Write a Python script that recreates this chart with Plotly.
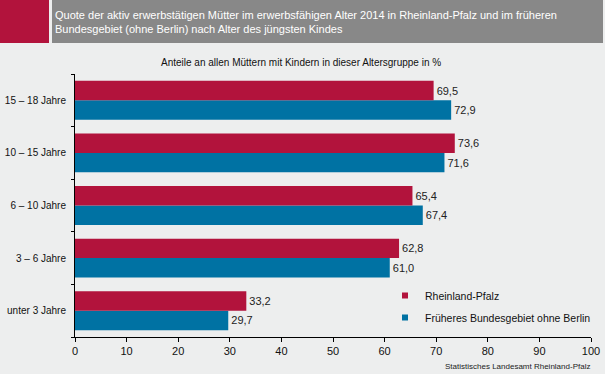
import plotly.graph_objects as go

categories = ["unter 3 Jahre", "3 – 6 Jahre", "6 – 10 Jahre", "10 – 15 Jahre", "15 – 18 Jahre"]
rlp_values = [33.2, 62.8, 65.4, 73.6, 69.5]
bund_values = [29.7, 61.0, 67.4, 71.6, 72.9]
series_names = ["Rheinland-Pfalz", "Früheres Bundesgebiet ohne Berlin"]
x_ticks = [0, 10, 20, 30, 40, 50, 60, 70, 80, 90, 100]

title_text = ("Quote der aktiv erwerbstätigen Mütter im erwerbsfähigen Alter 2014 in Rheinland-Pfalz und im früheren<br>"
              "Bundesgebiet (ohne Berlin) nach Alter des jüngsten Kindes")
subtitle_text = "Anteile an allen Müttern mit Kindern in dieser Altersgruppe in %"
source_text = "Statistisches Landesamt Rheinland-Pfalz"

RED = "#B2133C"
BLUE = "#0072A3"
BG = "#EDEEEE"
GRAY = "#888888"
FONT = "Liberation Sans, Arial, sans-serif"

W, H = 605, 374
L, R, T, B = 75, 14, 74, 37
PW, PH = W - L - R, H - T - B

def px(x):
    return (x - L) / PW

def py(y):
    return (H - B - y) / PH

def fmt(v):
    return f"{v:.1f}".replace(".", ",")

fig = go.Figure()
fig.add_trace(go.Bar(
    y=categories, x=bund_values, orientation="h", name=series_names[1],
    marker=dict(color=BLUE, line=dict(width=0)),
    text=[fmt(v) for v in bund_values], textposition="outside",
    textfont=dict(size=11, color="#222222", family=FONT),
    cliponaxis=False, showlegend=False,
))
fig.add_trace(go.Bar(
    y=categories, x=rlp_values, orientation="h", name=series_names[0],
    marker=dict(color=RED, line=dict(width=0)),
    text=[fmt(v) for v in rlp_values], textposition="outside",
    textfont=dict(size=11, color="#222222", family=FONT),
    cliponaxis=False, showlegend=False,
))
# legend entries with small square markers
fig.add_trace(go.Scatter(x=[None], y=[None], mode="markers", name=series_names[0],
                         marker=dict(symbol="square", size=6, color=RED), legendgroup="a"))
fig.add_trace(go.Scatter(x=[None], y=[None], mode="markers", name=series_names[1],
                         marker=dict(symbol="square", size=6, color=BLUE), legendgroup="b"))

shapes = [
    dict(type="rect", xref="paper", yref="paper", x0=px(0), x1=px(49), y0=py(0), y1=py(43),
         fillcolor=RED, line=dict(width=0), layer="below"),
    dict(type="rect", xref="paper", yref="paper", x0=px(52), x1=px(603), y0=py(0), y1=py(43),
         fillcolor=GRAY, line=dict(width=0), layer="below"),
]

annotations = [
    dict(text=title_text, xref="paper", yref="paper", x=px(53), y=py(21.5), xanchor="left", yanchor="middle",
         showarrow=False, align="left", font=dict(size=11, color="white", family=FONT)),
    dict(text=subtitle_text, xref="paper", yref="paper", x=px(301), y=py(63), xanchor="center", yanchor="middle",
         showarrow=False, font=dict(size=10, color="#111111", family=FONT)),
    dict(text=source_text, xref="paper", yref="paper", x=px(592), y=py(366), xanchor="right", yanchor="middle",
         showarrow=False, font=dict(size=8, color="#222222", family=FONT)),
]

fig.update_layout(
    width=W, height=H,
    margin=dict(l=L, r=R, t=T, b=B, pad=0, autoexpand=False),
    paper_bgcolor=BG, plot_bgcolor=BG,
    barmode="group", bargap=0.26, bargroupgap=0,
    font=dict(family=FONT, size=11, color="#111111"),
    shapes=shapes, annotations=annotations,
    legend=dict(x=px(385), y=py(281), xanchor="left", yanchor="top", bgcolor="rgba(0,0,0,0)",
                font=dict(size=10.5, color="#111111", family=FONT), tracegroupgap=3,
                traceorder="grouped"),
    xaxis=dict(range=[0, 100], tickvals=x_ticks, ticktext=[str(v) for v in x_ticks],
               showgrid=False, zeroline=False, showline=True, linecolor="#000000", linewidth=1,
               ticks="outside", ticklen=4, tickcolor="#000000", automargin=False,
               tickfont=dict(size=11, color="#111111"), fixedrange=True),
    yaxis=dict(categoryorder="array", categoryarray=categories, showgrid=False, zeroline=False,
               showline=True, linecolor="#000000", linewidth=1, automargin=False,
               ticks="outside", ticklen=3, tickson="boundaries", tickcolor="#000000",
               ticklabelstandoff=6,
               tickfont=dict(size=10, color="#111111")),
)
fig.write_html("out.html", config={"displayModeBar": False},
               post_script="document.body.style.margin='0';document.body.style.background='" + BG + "';")
